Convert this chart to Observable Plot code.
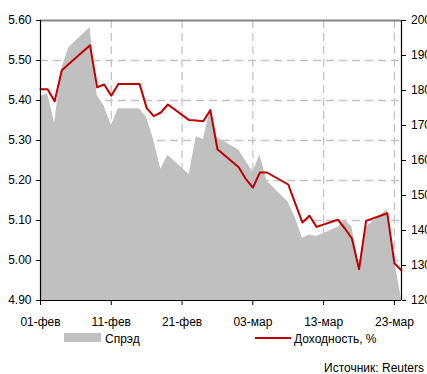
<!DOCTYPE html>
<html>
<head>
<meta charset="utf-8">
<script src="https://cdn.jsdelivr.net/npm/d3@7"></script>
<script src="https://cdn.jsdelivr.net/npm/@observablehq/plot@0.6"></script>
<style>
  html, body { margin: 0; padding: 0; background: #fff; overflow: hidden; }
  #wrap { position: relative; width: 427px; height: 374px; font-family: "Liberation Sans", Arial, sans-serif; font-size: 12px; color: #000; }
  #chart { position: absolute; left: 0; top: 0; }
  .lg { position: absolute; line-height: 14px; white-space: nowrap; }
  .sw-area { position: absolute; background: #c0c0c0; }
  .sw-line { position: absolute; background: #c00000; }
</style>
</head>
<body>
<div id="wrap">
  <div id="chart"></div>
  <div class="sw-area" style="left:64px; top:333px; width:37px; height:9px;"></div>
  <div class="lg" style="left:105px; top:332px;">Спрэд</div>
  <div class="sw-line" style="left:255px; top:337px; width:36px; height:2px;"></div>
  <div class="lg" style="left:294px; top:332px;">Доходность, %</div>
  <div class="lg" style="right:3px; top:361px;">Источник: Reuters</div>
</div>
<script>
// Trading days, February–March 2010
const dates = [
  "2010-02-01", "2010-02-02", "2010-02-03", "2010-02-04", "2010-02-05",
  "2010-02-08", "2010-02-09", "2010-02-10", "2010-02-11", "2010-02-12",
  "2010-02-15", "2010-02-16", "2010-02-17", "2010-02-18", "2010-02-19",
  "2010-02-22", "2010-02-23", "2010-02-24", "2010-02-25", "2010-02-26",
  "2010-03-01", "2010-03-02", "2010-03-03", "2010-03-04", "2010-03-05",
  "2010-03-08", "2010-03-09", "2010-03-10", "2010-03-11", "2010-03-12",
  "2010-03-15", "2010-03-16", "2010-03-17", "2010-03-18", "2010-03-19",
  "2010-03-22", "2010-03-23", "2010-03-24"
];

// Yield, % (left axis)
const yieldPct = [
  5.428, 5.428, 5.398, 5.475, 5.491,
  5.538, 5.433, 5.440, 5.412, 5.441,
  5.441, 5.381, 5.361, 5.370, 5.390,
  5.351, 5.350, 5.348, 5.376, 5.278,
  5.233, 5.204, 5.182, 5.220, 5.220,
  5.190, 5.142, 5.095, 5.112, 5.084,
  5.102, 5.080, 5.055, 4.978, 5.099,
  5.118, 4.993, 4.975
];

// Spread, bp (right axis)
const spread = [
  178.3, 179.1, 170.7, 186.2, 192.2,
  198.0, 178.6, 175.5, 170.0, 174.8,
  174.8, 172.2, 165.8, 157.5, 161.5,
  156.0, 166.8, 166.0, 174.4, 166.5,
  163.0, 159.8, 156.7, 161.5, 154.1,
  148.1, 143.6, 137.8, 138.7, 138.3,
  140.9, 143.0, 141.0, 129.3, 141.0,
  145.9, 131.6, 120.2
];

const leftTicks = [4.9, 5.0, 5.1, 5.2, 5.3, 5.4, 5.5, 5.6];
const rightTicks = [120, 130, 140, 150, 160, 170, 180, 190, 200];
const xTickDates = ["2010-02-01", "2010-02-11", "2010-02-21", "2010-03-03", "2010-03-13", "2010-03-23"];
const xTickLabels = ["01-фев", "11-фев", "21-фев", "03-мар", "13-мар", "23-мар"];

const yMin = 4.9, yMax = 5.6, sMin = 120, sMax = 200;
// map the spread onto the yield scale so both share one y axis
const toLeft = s => yMin + (s - sMin) * (yMax - yMin) / (sMax - sMin);
const fromLeft = y => sMin + (y - yMin) * (sMax - sMin) / (yMax - yMin);

const rows = dates.map((d, i) => ({date: new Date(d), yield: yieldPct[i], spread: spread[i]}));
const xTicks = xTickDates.map(d => new Date(d));
const labelOf = new Map(xTickDates.map((d, i) => [new Date(d).getTime(), xTickLabels[i]]));

const x0 = new Date("2010-02-01"), x1 = new Date("2010-03-24");
const font = "'Liberation Sans', Arial, sans-serif";
const grid = {stroke: "#c4c4c4", strokeOpacity: 1, strokeWidth: 1.3, strokeDasharray: "8,5"};

const chart = Plot.plot({
  width: 427,
  height: 332,
  marginLeft: 40,
  marginRight: 26,
  marginTop: 20,
  marginBottom: 32,
  style: {fontFamily: font, fontSize: "12px", color: "#000", background: "transparent"},
  x: {type: "utc", domain: [x0, x1]},
  y: {domain: [yMin, yMax]},
  marks: [
    Plot.ruleY(leftTicks.slice(1, -1), grid),
    Plot.ruleX(xTicks.slice(1), grid),
    Plot.areaY(rows, {x: "date", y1: () => yMin, y2: d => toLeft(d.spread), fill: "#c0c0c0", curve: "linear"}),
    Plot.lineY(rows, {x: "date", y: "yield", stroke: "#c00000", strokeWidth: 2, curve: "linear"}),
    Plot.ruleY([yMax], {stroke: "#858585", strokeWidth: 2}),
    Plot.ruleX([x0], {stroke: "#000", strokeWidth: 1.2}),
    Plot.ruleX([x1], {stroke: "#000", strokeWidth: 1.2}),
    Plot.ruleY([yMin], {stroke: "#000", strokeWidth: 1.2}),
    Plot.axisY(leftTicks, {anchor: "left", label: null, tickSize: 4, tickPadding: 5, tickFormat: d => d.toFixed(2)}),
    Plot.axisY(rightTicks.map(toLeft), {anchor: "right", label: null, tickSize: 4, tickPadding: 5.5, tickFormat: d => String(Math.round(fromLeft(d)))}),
    Plot.axisX(xTicks, {anchor: "bottom", label: null, tickSize: 5, tickPadding: 12, tickFormat: d => labelOf.get(d.getTime())})
  ]
});
document.getElementById("chart").appendChild(chart);
</script>
</body>
</html>
